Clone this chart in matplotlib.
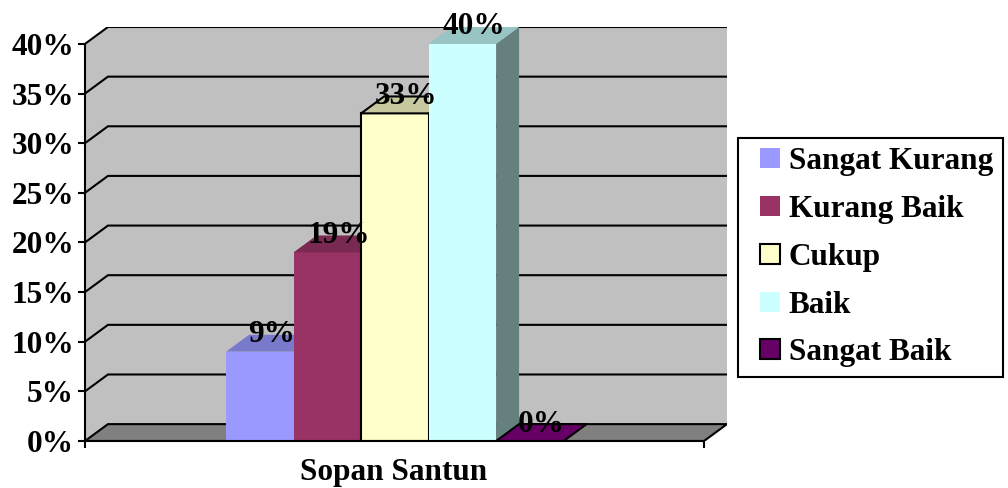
import matplotlib.pyplot as plt
from matplotlib.patches import Polygon, Rectangle, Patch
from matplotlib.legend_handler import HandlerPatch
from matplotlib.ticker import FuncFormatter

kategori = ["Sangat Kurang", "Kurang Baik", "Cukup", "Baik", "Sangat Baik"]
nilai = [9, 19, 33, 40, 0]  # persen
judul_x = "Sopan Santun"
yticks = [0, 5, 10, 15, 20, 25, 30, 35, 40]

warna = ["#9999FF", "#993366", "#FFFFCC", "#CCFFFF", "#660066"]
warna_atas = ["#7A7ACC", "#7A2952", "#C8C8A0", "#99C4C4", "#660066"]
warna_sisi = ["#5C5C99", "#5C1F3D", "#99997A", "#668080", "#3D003D"]
garis = [False, False, True, False, True]

FONT = "Liberation Serif"
FS = 22.5

# kedalaman 3D (dalam satuan data)
DX = 0.34
DY = 1.7
X0, XR = -2.09, 7.08

fig = plt.figure(figsize=(10.08, 4.88), dpi=100)
ax = fig.add_axes([85 / 1008, 47 / 488, 642 / 1008, 414 / 488])
ax.set_xlim(X0, XR + DX)
ax.set_ylim(0, 40 + DY)

# dinding belakang, dinding kiri, lantai
ax.add_patch(Polygon([(X0 + DX, DY), (XR + DX, DY), (XR + DX, 40 + DY), (X0 + DX, 40 + DY)],
                     closed=True, fc="#C0C0C0", ec="none", zorder=0))
ax.add_patch(Polygon([(X0, 0), (X0 + DX, DY), (X0 + DX, 40 + DY), (X0, 40)],
                     closed=True, fc="#C0C0C0", ec="none", zorder=0))
ax.add_patch(Polygon([(X0, 0), (XR, 0), (XR + DX, DY), (X0 + DX, DY)],
                     closed=True, fc="#808080", ec="black", lw=1.5, zorder=1))

for v in yticks[1:]:
    ax.plot([X0, X0 + DX, XR + DX], [v, v + DY, v + DY], color="black", lw=1.5, zorder=1,
            solid_joinstyle="miter")

# batang 3D
for i, (v, c) in enumerate(zip(nilai, warna)):
    x = i
    ec = "black" if garis[i] else "none"
    z = 2 + i
    if v > 0:
        ax.add_patch(Polygon([(x + 1, 0), (x + 1 + DX, DY), (x + 1 + DX, v + DY), (x + 1, v)],
                             closed=True, fc=warna_sisi[i], ec=ec, lw=1.5, zorder=z))
        ax.add_patch(Rectangle((x, 0), 1, v, fc=c, ec=ec, lw=1.5, zorder=z))
    ax.add_patch(Polygon([(x, v), (x + 1, v), (x + 1 + DX, v + DY), (x + DX, v + DY)],
                         closed=True, fc=warna_atas[i], ec=ec, lw=1.5, zorder=z))
    ax.text(x + 0.5 + DX / 2, v + DY, f"{v}%", ha="center", va="center",
            fontsize=FS, fontweight="bold", family=FONT, zorder=20)

# sumbu
for s in ["top", "right"]:
    ax.spines[s].set_visible(False)
ax.set_facecolor("none")
ax.spines["left"].set_bounds(0, 40)
ax.spines["bottom"].set_bounds(X0, XR)
ax.spines["left"].set_linewidth(1.5)
ax.spines["bottom"].set_linewidth(1.5)
ax.spines["left"].set_zorder(30)
ax.spines["bottom"].set_zorder(30)
ax.set_yticks(yticks)
ax.yaxis.set_major_formatter(FuncFormatter(lambda v, p: f"{int(v)}%"))
ax.set_xticks([X0, XR])
ax.set_xticklabels(["", ""])
ax.tick_params(axis="both", direction="out", length=5, width=1.5, pad=3)
for lb in ax.get_yticklabels():
    lb.set_fontfamily(FONT)
    lb.set_fontweight("bold")
    lb.set_fontsize(FS)
ax.set_xlabel(judul_x, fontsize=FS, fontweight="bold", family=FONT)
ax.xaxis.label.set_va("baseline")
ax.xaxis.set_label_coords((394 - 85) / 642, -39 / 414)


def kotak(legend, orig_handle, xdescent, ydescent, width, height, fontsize):
    s = 14.4  # ~20 px
    return Rectangle((-xdescent + width - s, -ydescent + (height - s) / 2), s, s)


handles = [Patch(fc=c, ec=("black" if g else "none"), lw=1.5) for c, g in zip(warna, garis)]
leg = fig.legend(handles, kategori, loc="upper left", bbox_to_anchor=(738 / 1008, 1 - 138 / 488),
                 prop={"family": FONT, "weight": "bold", "size": FS},
                 frameon=True, fancybox=False, edgecolor="black", framealpha=1,
                 handlelength=1.05, handleheight=0.7, handletextpad=0.28,
                 labelspacing=0.6, borderpad=0.3, borderaxespad=0,
                 handler_map={Patch: HandlerPatch(patch_func=kotak)})
leg.get_frame().set_linewidth(1.5)

fig.savefig("out.png", dpi=100)
